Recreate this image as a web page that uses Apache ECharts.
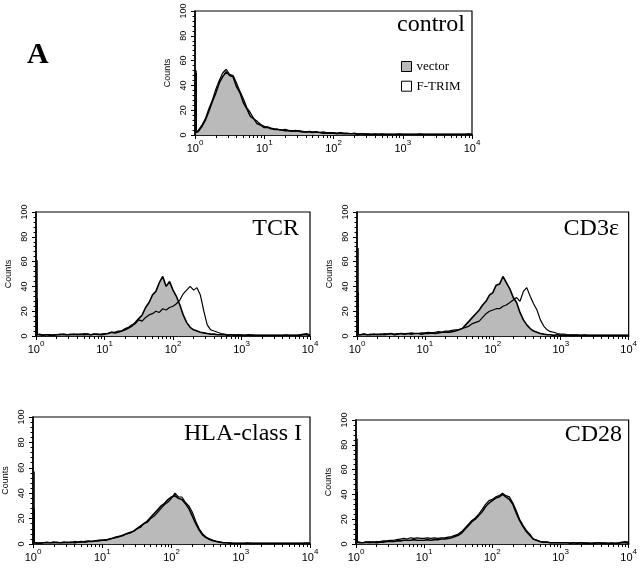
<!DOCTYPE html>
<html>
<head>
<meta charset="utf-8">
<script src="https://cdn.jsdelivr.net/npm/echarts@6/dist/echarts.min.js"></script>
<style>
html,body{margin:0;padding:0;background:#fff;}
#chart{width:640px;height:569px;}
</style>
</head>
<body>
<div id="chart"></div>
<script>
// Fluorescence channel positions (first channel listed twice: pile-up spike, then its baseline)
var fluor = [1.04,
  1.04, 1.12, 1.26, 1.41, 1.58, 1.78, 2.0, 2.24, 2.51, 2.82, 3.16, 3.55, 3.98, 4.47, 5.01, 5.62, 6.31, 7.08, 7.94, 8.91,
  10, 11.2, 12.6, 14.1, 15.8, 17.8, 20, 22.4, 25.1, 28.2, 31.6, 35.5, 39.8, 44.7, 50.1, 56.2, 63.1, 70.8, 79.4, 89.1,
  100, 112, 126, 141, 158, 178, 200, 224, 251, 282, 316, 355, 398, 447, 501, 562, 631, 708, 794, 891,
  1000, 1122, 1259, 1413, 1585, 1778, 1995, 2239, 2512, 2818, 3162, 3548, 3981, 4467, 5012, 5623, 6310, 7079, 7943, 8913,
  10000];

var yTicks = [0, 20, 40, 60, 80, 100];
var xTicks = [1, 10, 100, 1000, 10000];
var seriesNames = ['vector', 'F-TRIM'];
var panelTitles = ['control', 'TCR', 'CD3\u03b5', 'HLA-class I', 'CD28'];

var controlVector = [50,
  2,3,7,12,19,27,34,42,47,51,48,47,39,34,26,21,15,13,9,8,
  6,6,5,4.5,4.5,4,3.5,3.5,3,3.5,3,2.5,2.5,2.5,2,2.5,2,1.5,1.5,1.5,
  1.5,1,1.5,1,1,1,1,0.5,1,0.5,0.5,0.5,0.5,0.5,0.5,0.5,0.5,0.5,0.5,0.5,
  0.5,0.5,0.5,0.5,0.5,0.5,0.5,0.5,0.5,0.5,0.5,0.5,0.5,0.5,0.5,0.5,0.5,0.5,0.5,0.5,
  0.5];
var controlFtrim = [52,
  2,4,8,13,21,28,37,44,50,53,49,48,42,35,29,22,18,13,11,8.5,
  7,6.5,5.5,5,4.5,4,4.5,3.5,3.5,3,3.5,3,2.5,3,2.5,2.5,2,2.5,2,2,
  2,1.5,2,1.5,1.5,1,1.5,1,1,1,1,0.5,1,0.5,1,0.5,0.5,0.5,0.5,1,
  0.5,0.5,0.5,0.5,0.5,1,0.5,0.5,0.5,0.5,0.5,0.5,0.5,0.5,0.5,0.5,0.5,0.5,0.5,1,
  0.5];

var tcrVector = [30,
  1,1,0.5,1,1,0.5,1,1,1.5,1,1,1.5,1,1.5,1,1.5,1,1.5,1.5,1,
  1.5,2,3,2.5,3,4,5,6.5,8,11,14,17,23,27,33,36,43,48,40,44,
  37,32,25,17,11,7,5,4,3,2.5,2,1.5,1.5,1,1,1,0.5,1,0.5,1,
  0.5,0.5,1,0.5,0.5,0.5,0.5,0.5,0.5,0.5,0.5,0.5,0.5,0.5,0.5,0.5,0.5,0.5,1,1,
  0.5];
var tcrFtrim = [61,
  1,1.5,1,1,0.5,1,1,1.5,1,1,1.5,1,1.5,1,2,1.5,1,1.5,1,1.5,
  2,2,3,3,4,4,6,7,9,10,13,12,15,17,18,20,19,22,21,23,
  24,26,29,34,37,40,37,39,33,20,9,5,4,3,2,1.5,1,1,1,0.5,
  1,0.5,0.5,1,0.5,0.5,0.5,0.5,0.5,0.5,0.5,0.5,0.5,1,0.5,0.5,0.5,1,1.5,2,
  1];

var cd3Vector = [35,
  1,1,1.5,1,1,1.5,1,1.5,1,1.5,2,1,1.5,2,1.5,2,1.5,2,2,1.5,
  2,2,2.5,2,2.5,3,3,3,3.5,4,5,6,9,12,15,18,21,25,28,33,
  35,41,42,48,43,38,31,27,19,13,9,6,4,3,2,1.5,1,1,0.5,1,
  0.5,0.5,0.5,0.5,0.5,0.5,0.5,0.5,0.5,0.5,0.5,0.5,0.5,0.5,0.5,0.5,0.5,0.5,0.5,0.5,
  0.5];
var cd3Ftrim = [71,
  1,1,1.5,1,1.5,1,1.5,1,2,1.5,2,1.5,2,2,1.5,2,2.5,2,2,2.5,
  2.5,3,2.5,3,3.5,3,4,4,4.5,5,5,6,7,8,10,11,12,15,18,20,
  21,22,22,24,25,27,29,31,28,36,39,32,26,21,13,8,5,3.5,3,2,
  1.5,1.5,1,1,1,1,0.5,1,0.5,0.5,0.5,0.5,0.5,0.5,0.5,0.5,0.5,0.5,0.5,0.5,
  0.5];

var hlaVector = [28,
  1,1,0.5,1,1,1,1.5,1,1,1.5,1,1.5,1,1.5,2,1.5,2,2,2.5,2.5,
  3,3,4,4.5,5.5,6,7,8,9,10,12,14,16,18,21,24,27,30,32,35,
  37,38,36,35,32,28,22,16,11,7,5,3.5,2.5,2,1.5,1,1,0.5,0.5,0.5,
  0.5,0.5,0.5,0.5,0.5,0.5,0.5,0.5,0.5,0.5,0.5,0.5,0.5,0.5,0.5,0.5,0.5,0.5,0.5,0.5,
  0.5];
var hlaFtrim = [57,
  1,0.5,1,1,1.5,1,1,1.5,1,1,1.5,1,2,1.5,1.5,2,2.5,2,2.5,3,
  3,3.5,3.5,4.5,5,6,6.5,8,8.5,10,12,13,16,17,20,22,25,28,31,33,
  36,40,37,37,33,30,25,18,12,8,5.5,4,3,2,1.5,1,1,1,0.5,0.5,
  0.5,0.5,1,0.5,0.5,0.5,0.5,0.5,0.5,0.5,0.5,0.5,0.5,0.5,0.5,0.5,0.5,0.5,0.5,1,
  0.5];

var cd28Vector = [42,
  1.5,1,1,1.5,1,1.5,1,1.5,1.5,2,2,2,2.5,2.5,3,3,3,3.5,3,3,
  3,3.5,3,3.5,3.5,4,4,4.5,5,6,7,9,12,15,18,20,23,26,30,33,
  35,37,38,40,38,36,32,25,19,14,10,7,4,3,2,1.5,1.5,1,1,1,
  1,1,1,0.5,1,0.5,1,0.5,0.5,0.5,0.5,1,0.5,0.5,0.5,0.5,0.5,0.5,1,1,
  1];
var cd28Ftrim = [85,
  1.5,1.5,1,1.5,2,1.5,2,2,2.5,2.5,3,3,3.5,4,4.5,4,5,4.5,5,4.5,
  4.5,5,4.5,5,4.5,5,5,5.5,6,7,8,10,13,16,19,21,24,28,32,35,
  36,38,39,41,39,38,33,27,20,15,11,8,4,3,2,1.5,1.5,1,1,1,
  1,1,1,1,1,1,1,1,1,0.5,1,1,1,1,0.5,1,0.5,1,1.5,2,
  1.5];

var panelData = [
  [controlVector, controlFtrim],
  [tcrVector, tcrFtrim],
  [cd3Vector, cd3Ftrim],
  [hlaVector, hlaFtrim],
  [cd28Vector, cd28Ftrim]
];

// layout (px)
var grids = [
  {left: 195, top: 11, width: 277, height: 124},
  {left: 36, top: 212, width: 274, height: 124},
  {left: 357, top: 212, width: 273, height: 124},
  {left: 33, top: 417, width: 277, height: 127},
  {left: 356, top: 420, width: 274, height: 124}
];
var titlePos = [
  {right: 175, top: 13},
  {right: 341, top: 217},
  {right: 21, top: 217},
  {right: 338, top: 422},
  {right: 18, top: 423}
];

var axisFont = 'Liberation Sans Narrow, Liberation Sans, Arial, sans-serif';
var serif = 'Liberation Serif, Times New Roman, serif';
var grayFill = '#bababa';

function pairs(arr) {
  return fluor.map(function (x, i) { return [x, arr[i]]; });
}

var option = {
  animation: false,
  backgroundColor: '#fff',
  title: [{text: 'A', left: 27, top: 40, padding: 0, textStyle: {fontFamily: serif, fontSize: 30, fontWeight: 'bold', color: '#000'}}]
    .concat(panelTitles.map(function (t, i) {
      return {text: t, right: titlePos[i].right, top: titlePos[i].top, padding: 0,
        textStyle: {fontFamily: serif, fontSize: 24, fontWeight: 'normal', color: '#000'}};
    })),
  legend: {
    orient: 'vertical', left: 401, top: 60, padding: 0, itemWidth: 10, itemHeight: 10, itemGap: 6.7,
    selectedMode: false,
    textStyle: {fontFamily: serif, fontSize: 13, color: '#000', lineHeight: 10},
    data: [
      {name: seriesNames[0], icon: 'rect', itemStyle: {color: grayFill, borderColor: '#000', borderWidth: 1}, lineStyle: {width: 0}},
      {name: seriesNames[1], icon: 'rect', itemStyle: {color: '#fff', borderColor: '#000', borderWidth: 1}, lineStyle: {width: 0}}
    ]
  },
  grid: grids.map(function (g) {
    return {left: g.left, top: g.top, width: g.width, height: g.height, show: true,
      borderColor: '#000', borderWidth: 1.2, backgroundColor: 'transparent', containLabel: false};
  }),
  xAxis: grids.map(function (g, i) {
    return {
      type: 'log', logBase: 10, gridIndex: i, min: xTicks[0], max: xTicks[xTicks.length - 1],
      axisLine: {show: true, lineStyle: {color: '#000', width: 1.6}},
      axisTick: {show: true, inside: false, length: 4, lineStyle: {color: '#000', width: 1}},
      minorTick: {show: true, splitNumber: 9, length: 3, lineStyle: {color: '#000', width: 1}},
      splitLine: {show: false},
      axisLabel: {
        margin: 4, color: '#000',
        formatter: function (v) {
          var e = Math.round(Math.log(v) / Math.LN10);
          return '{b|10}{s|' + e + '}';
        },
        rich: {
          b: {fontFamily: axisFont, fontSize: 11, color: '#000', verticalAlign: 'bottom', lineHeight: 15},
          s: {fontFamily: axisFont, fontSize: 8, color: '#000', verticalAlign: 'top', lineHeight: 9}
        }
      }
    };
  }),
  yAxis: grids.map(function (g, i) {
    return {
      type: 'value', gridIndex: i, min: yTicks[0], max: yTicks[yTicks.length - 1], interval: yTicks[1] - yTicks[0],
      name: 'Counts', nameLocation: 'middle', nameGap: 23, nameRotate: 90,
      nameTextStyle: {fontFamily: axisFont, fontSize: 9, color: '#000'},
      axisLine: {show: true, lineStyle: {color: '#000', width: 1.6}},
      axisTick: {show: true, inside: false, length: 4, lineStyle: {color: '#000', width: 1}},
      minorTick: {show: true, splitNumber: 5, length: 2.5, lineStyle: {color: '#000', width: 1}},
      splitLine: {show: false},
      axisLabel: {rotate: 90, margin: 7, fontFamily: axisFont, fontSize: 9, color: '#000'}
    };
  }),
  series: []
};

panelData.forEach(function (pd, i) {
  option.series.push({
    name: seriesNames[0], type: 'line', xAxisIndex: i, yAxisIndex: i,
    data: pairs(pd[0]), showSymbol: false, symbol: 'none', clip: true,
    lineStyle: {color: '#000', width: 1.6},
    itemStyle: {color: grayFill},
    areaStyle: {color: grayFill, opacity: 1},
    z: 5
  });
  option.series.push({
    name: seriesNames[1], type: 'line', xAxisIndex: i, yAxisIndex: i,
    data: pairs(pd[1]), showSymbol: false, symbol: 'none', clip: true,
    lineStyle: {color: '#000', width: 1.2},
    itemStyle: {color: '#fff'},
    z: 6
  });
});

var chart = echarts.init(document.getElementById('chart'), null, {renderer: 'canvas'});
chart.setOption(option);
</script>
</body>
</html>
